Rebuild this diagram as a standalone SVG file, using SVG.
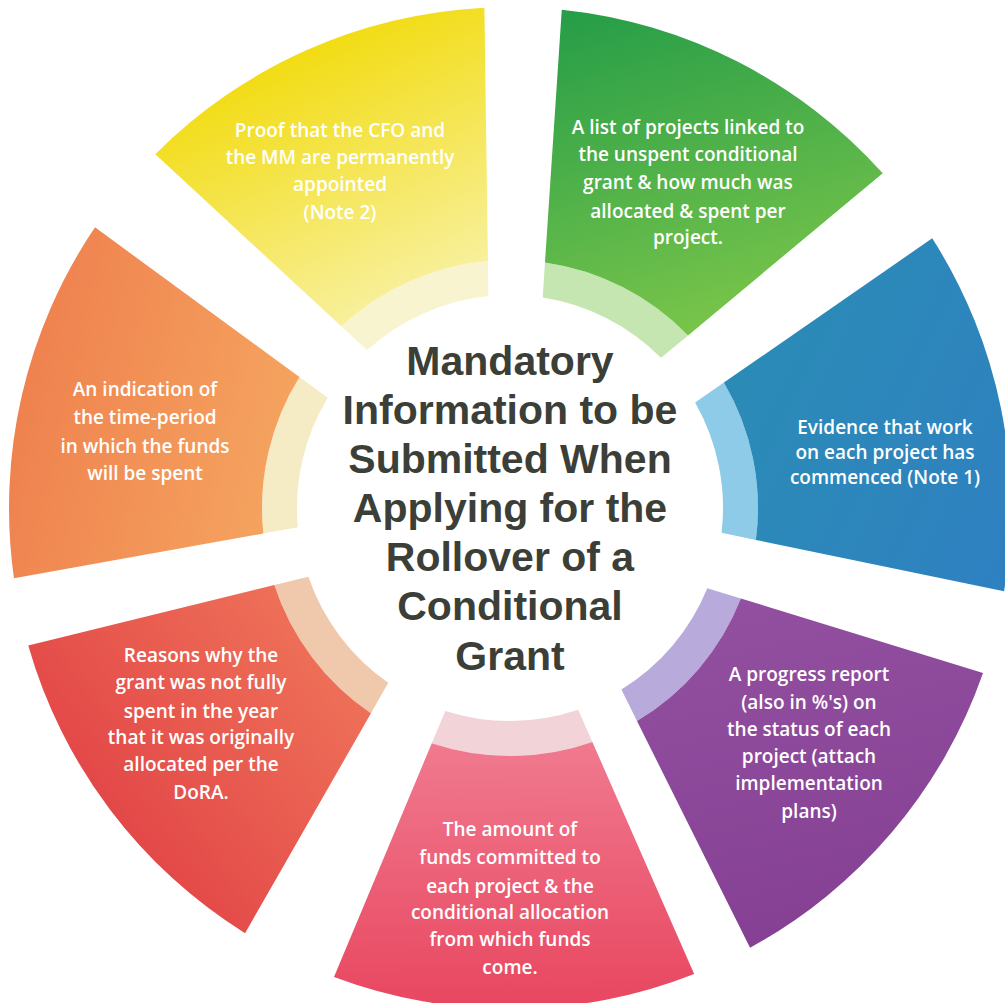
<svg xmlns="http://www.w3.org/2000/svg" width="1005" height="1003" viewBox="0 0 1005 1003">
<style>
.lbl{fill:#ffffff;font-family:"Open Sans","Liberation Sans",sans-serif;font-size:19px;font-weight:600;text-anchor:middle}
.ttl{fill:#3b3f37;font-family:"Liberation Sans",Arial,sans-serif;font-size:41px;font-weight:bold;text-anchor:middle}
</style>
<defs>
<path id="seg" d="M234.6,-80.3 L467.5,-180.1 A501,501 0 0 1 467.5,180.1 L234.6,80.3 A248,248 0 0 0 234.6,-80.3 Z"/>
<path id="band" d="M202.4,-66.4 L234.6,-80.3 A248,248 0 0 1 234.6,80.3 L202.4,66.4 A213,213 0 0 0 202.4,-66.4 Z"/>
<linearGradient id="gPink" x1="0" y1="0" x2="1" y2="0"><stop offset="0" stop-color="#f07a8f"/><stop offset="1" stop-color="#e8465f"/></linearGradient>
<linearGradient id="gRed" x1="0" y1="0" x2="1" y2="0"><stop offset="0" stop-color="#ee7058"/><stop offset="1" stop-color="#e34848"/></linearGradient>
<linearGradient id="gOrange" x1="0" y1="0" x2="1" y2="0"><stop offset="0" stop-color="#f5a35f"/><stop offset="1" stop-color="#ef824f"/></linearGradient>
<linearGradient id="gYellow" x1="0" y1="0" x2="1" y2="0"><stop offset="0" stop-color="#f8f09c"/><stop offset="1" stop-color="#f2dc14"/></linearGradient>
<linearGradient id="gGreen" x1="0.2" y1="1" x2="1" y2="0"><stop offset="0" stop-color="#80c84a"/><stop offset="1" stop-color="#1f9a48"/></linearGradient>
<linearGradient id="gBlue" x1="0" y1="0" x2="1" y2="1"><stop offset="0" stop-color="#2a8db4"/><stop offset="1" stop-color="#2f80c2"/></linearGradient>
<linearGradient id="gPurple" x1="0" y1="0" x2="1" y2="1"><stop offset="0" stop-color="#9552a2"/><stop offset="1" stop-color="#843f92"/></linearGradient>
</defs>
<rect width="1005" height="1003" fill="#ffffff"/>
<g id="connectors"/>
<g id="node-pink">
<use href="#band" fill="#f2d3d8" transform="translate(510 508) rotate(89.5)"/>
<use href="#seg" fill="url(#gPink)" transform="translate(510 508) rotate(89.5)"/>
<text class="lbl" x="510"><tspan x="510" y="836">The amount of</tspan><tspan x="510" y="864">funds committed to</tspan><tspan x="510" y="893">each project &amp; the</tspan><tspan x="510" y="919">conditional allocation</tspan><tspan x="510" y="946">from which funds</tspan><tspan x="510" y="974">come.</tspan></text>
</g>
<g id="node-red">
<use href="#band" fill="#f0c9ac" transform="translate(510 508) rotate(143)"/>
<use href="#seg" fill="url(#gRed)" transform="translate(510 508) rotate(143)"/>
<text class="lbl"><tspan x="201" y="662">Reasons why the</tspan><tspan x="201" y="689">grant was not fully</tspan><tspan x="201" y="718">spent in the year</tspan><tspan x="201" y="744">that it was originally</tspan><tspan x="201" y="771">allocated per the</tspan><tspan x="201" y="799">DoRA.</tspan></text>
</g>
<g id="node-orange">
<use href="#band" fill="#f5ecc6" transform="translate(510 508) rotate(193)"/>
<use href="#seg" fill="url(#gOrange)" transform="translate(510 508) rotate(193)"/>
<text class="lbl"><tspan x="145" y="396">An indication of</tspan><tspan x="145" y="424">the time-period</tspan><tspan x="145" y="453">in which the funds</tspan><tspan x="145" y="480">will be spent</tspan></text>
</g>
<g id="node-yellow">
<use href="#band" fill="#f7f4cf" transform="translate(510 508) rotate(246)"/>
<use href="#seg" fill="url(#gYellow)" transform="translate(510 508) rotate(246)"/>
<text class="lbl"><tspan x="340" y="137">Proof that the CFO and</tspan><tspan x="340" y="164">the MM are permanently</tspan><tspan x="340" y="191">appointed</tspan><tspan x="340" y="219">(Note 2)</tspan></text>
</g>
<g id="node-green">
<use href="#band" fill="#c5e6b0" transform="translate(510 508) rotate(297)"/>
<use href="#seg" fill="url(#gGreen)" transform="translate(510 508) rotate(297)"/>
<text class="lbl"><tspan x="688" y="134">A list of projects linked to</tspan><tspan x="688" y="161">the unspent conditional</tspan><tspan x="688" y="189">grant &amp; how much was</tspan><tspan x="688" y="218">allocated &amp; spent per</tspan><tspan x="688" y="244">project.</tspan></text>
</g>
<g id="node-blue">
<use href="#band" fill="#8dcbe8" transform="translate(510 508) rotate(348.5)"/>
<use href="#seg" fill="url(#gBlue)" transform="translate(510 508) rotate(348.5)"/>
<text class="lbl"><tspan x="885" y="434">Evidence that work</tspan><tspan x="885" y="459">on each project has</tspan><tspan x="885" y="484">commenced (Note 1)</tspan></text>
</g>
<g id="node-purple">
<use href="#band" fill="#b8aadb" transform="translate(510 508) rotate(40.3)"/>
<use href="#seg" fill="url(#gPurple)" transform="translate(510 508) rotate(40.3)"/>
<text class="lbl"><tspan x="809" y="681">A progress report</tspan><tspan x="809" y="709">(also in %'s) on</tspan><tspan x="809" y="736">the status of each</tspan><tspan x="809" y="763">project (attach</tspan><tspan x="809" y="790">implementation</tspan><tspan x="809" y="818">plans)</tspan></text>
</g>
<g id="node-center">
<text class="ttl"><tspan x="510" y="375">Mandatory</tspan><tspan x="510" y="424">Information to be</tspan><tspan x="510" y="473">Submitted When</tspan><tspan x="510" y="522">Applying for the</tspan><tspan x="510" y="571">Rollover of a</tspan><tspan x="510" y="620">Conditional</tspan><tspan x="510" y="670">Grant</tspan></text>
</g>
</svg>
